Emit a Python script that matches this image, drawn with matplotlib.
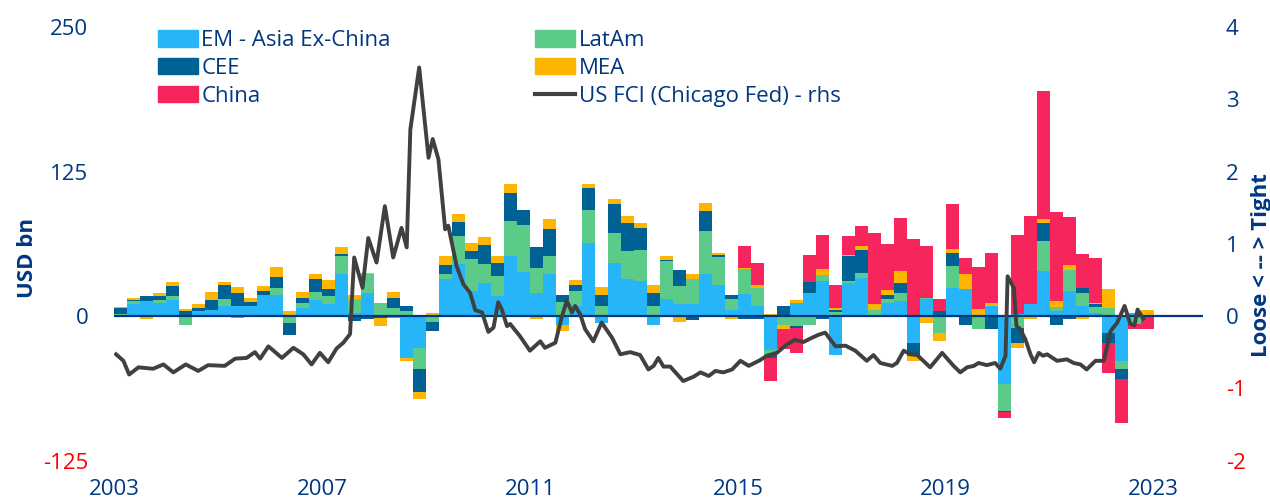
import numpy as np
import pandas as pd
import matplotlib
matplotlib.use("Agg")
import matplotlib.pyplot as plt
from matplotlib.patches import Patch
from matplotlib.lines import Line2D


# ==================================
# DATA  (USD bn, quarterly 2003Q1 - 2022Q4)
# ==================================

quarters = pd.period_range("2003Q1", "2022Q4", freq="Q")

asia = [1, 10, 13, 11.5, 14, 0, 4, 5, 8.5, 8.5,
        8.5, 18.6, 18.6, 0, 7, 14, 10, 36, 3, 20,
        0, -2, -36, -27.5, 0, 32, 45, 21.5, 28.7, 17,
        51.7, 38, 20, 36, -7.4, 8.5, 63.3, -6, 46, 31.6,
        30, -7.4, 14.3, 10, 10, 36, 27.2, 5.6, 18.7, 8.6,
        -29, 0, 11.4, 20, 30, -34, 28.7, 33, 0, 11.4,
        12.8, -23, 14.4, 0, 24.5, 23.1, 0, 8.6, -59, 2,
        10.1, 38.9, 4.3, 21.6, 8.6, 3, -14.4, -38.9, 2.9, 0]

latam = [1, 3, 0, 2, 3, -8, -1, 0.5, 6, -2,
         0, 0, 6, -6, 4, 7, 7, 16, 11.5, 16,
         11, 7, 4, -18.5, -5, 4, 24, 27.5, 16, 17.4,
         30.3, 41, 21.7, 16, 12, 13, 28.8, 8.5, 26, 24.4,
         27.4, 8.5, 33, 15.8, 22.2, 37.5, 24, 8.7, 21.6, 16,
         -4.3, -8, -8.6, -8, 5.8, 3.5, 1.4, 4.4, 5.6, 2.9,
         7.2, 0, 1.5, -14.4, 18.7, 0, -11.5, 0, -23, -10,
         0, 26.1, 3.8, 18.2, 11.6, 5, 7.2, -7.2, -7, 0]

cee = [5, 0.5, 4, 4, 9, 4, 3, 8, 12, 11.5,
       3.5, 3, 9.5, -10, 5, 11, 6.5, 2, -4.5, -3,
       -2, 8.5, 4.5, -20, -8, 8.5, 12, 7, 17, 11.6,
       24.6, 12.5, 18, 23, 6.6, 5.7, 18.8, 10, 24.5, 24.6,
       18.8, 11.5, 1.5, 14.4, -3.5, 17.3, 1.5, 4.3, -3, -3,
       -2.9, 8.6, -2, 9, -3, 2, 21.6, 20, 0, 4.3,
       8.7, -11.6, 0, 4.3, 11.6, -8.1, 0, -11.5, -1.4, -13,
       0, 15.8, -8.1, -2.9, 4.3, 2, -8.6, -8.7, 0, 0]

mea = [0.5, 2.5, -3, 2.5, 3, 2, 3, 7, 3, 5,
       4, 4, 8, 4, 5, 4.5, 7.5, 6, 4, 1.5,
       -7, 5, -3, -6, 3, 7, 7, 7, 6.5, 6.3,
       7.2, -1, -3, 8.7, -5.6, 3.8, 3.7, 6.7, 5, 5.7,
       4.3, 6.4, 3.5, -5.4, 4.3, 7.2, 2.2, -3, 1.5, 2.5,
       2, -3.5, 2.3, 0, 5, 1.5, 1.5, 2.9, 4.4, 4.3,
       10, -4.3, -5.8, -7.2, 3.4, 12.9, 5.8, 2.4, 0, -4.4,
       -2.9, 3.5, 4.9, 4.1, -2.9, 1.5, 15.9, 0, 0, 4.9]

china = [0] * 48 + [
         19, 19, -20, -17, -21, 24, 29.7, 20, 16.4, 17.3,
         62, 39, 46.3, 66.3, 44.7, 10.1, 38.4, 14.4, 36.9, 43.2,
         -4.4, 68, 76.4, 110.3, 77, 41.8, 29.4, 38.9, -26, -37.5,
         -4, -11]

# US FCI (Chicago Fed), rhs
fci_dates = [2003.04, 2003.18, 2003.29, 2003.47, 2003.75, 2003.95, 2004.14, 2004.38, 2004.62, 2004.81,
             2005.13, 2005.33, 2005.55, 2005.71, 2005.81, 2005.97, 2006.23, 2006.45, 2006.64, 2006.80,
             2006.96, 2007.12, 2007.28, 2007.41, 2007.54, 2007.62, 2007.78, 2007.89, 2008.05, 2008.21,
             2008.37, 2008.53, 2008.63, 2008.70, 2008.87, 2009.05, 2009.13, 2009.24, 2009.37, 2009.43,
             2009.59, 2009.72, 2009.85, 2009.95, 2010.08, 2010.20, 2010.30, 2010.39, 2010.46, 2010.56,
             2010.62, 2010.81, 2011.00, 2011.20, 2011.29, 2011.49, 2011.61, 2011.71, 2011.81, 2011.87,
             2011.97, 2012.06, 2012.22, 2012.38, 2012.58, 2012.74, 2012.93, 2013.12, 2013.28, 2013.38,
             2013.47, 2013.57, 2013.70, 2013.95, 2014.15, 2014.28, 2014.44, 2014.57, 2014.72, 2014.89,
             2015.05, 2015.21, 2015.43, 2015.56, 2015.75, 2015.95, 2016.10, 2016.26, 2016.43, 2016.55,
             2016.68, 2016.88, 2017.07, 2017.26, 2017.48, 2017.61, 2017.74, 2017.97, 2018.06, 2018.19,
             2018.32, 2018.45, 2018.70, 2018.93, 2019.15, 2019.28, 2019.41, 2019.54, 2019.63, 2019.79,
             2019.95, 2020.05, 2020.15, 2020.19, 2020.31, 2020.36, 2020.43, 2020.53, 2020.63, 2020.70,
             2020.79, 2020.87, 2020.95, 2021.14, 2021.33, 2021.46, 2021.59, 2021.71, 2021.88, 2022.04,
             2022.17, 2022.30, 2022.44, 2022.55, 2022.63, 2022.69, 2022.80]

fci_values = [-0.53, -0.62, -0.81, -0.71, -0.73, -0.67, -0.78, -0.67, -0.76, -0.68,
              -0.69, -0.59, -0.58, -0.50, -0.59, -0.42, -0.58, -0.44, -0.53, -0.67,
              -0.51, -0.64, -0.45, -0.37, -0.25, 0.81, 0.39, 1.08, 0.74, 1.52,
              0.81, 1.22, 0.95, 2.58, 3.44, 2.19, 2.45, 2.17, 1.20, 1.25,
              0.69, 0.44, 0.32, 0.08, 0.05, -0.22, -0.16, 0.19, 0.09, -0.14,
              -0.11, -0.28, -0.48, -0.35, -0.44, -0.37, -0.02, 0.21, 0.05, 0.14,
              0.02, -0.18, -0.35, -0.09, -0.30, -0.53, -0.50, -0.54, -0.74, -0.69,
              -0.58, -0.70, -0.70, -0.90, -0.84, -0.78, -0.83, -0.76, -0.78, -0.74,
              -0.62, -0.69, -0.61, -0.55, -0.51, -0.39, -0.33, -0.36, -0.30, -0.26,
              -0.23, -0.42, -0.41, -0.48, -0.62, -0.54, -0.65, -0.69, -0.65, -0.48,
              -0.53, -0.54, -0.71, -0.51, -0.69, -0.78, -0.71, -0.69, -0.65, -0.68,
              -0.65, -0.73, -0.55, 0.55, 0.39, -0.14, -0.18, -0.32, -0.53, -0.64,
              -0.51, -0.55, -0.53, -0.62, -0.60, -0.65, -0.67, -0.74, -0.62, -0.62,
              -0.21, -0.09, 0.14, -0.11, -0.13, 0.09, -0.04]

series_names = ["EM - Asia Ex-China", "LatAm", "CEE", "MEA", "China"]
series_colors = ["#27B5FA", "#5CCB89", "#006194", "#FDB500", "#F6255C"]

year_ticks = [2003, 2007, 2011, 2015, 2019, 2023]

NAVY = "#003781"
RED = "#FF0000"
FS = 16


# ==================================
# PLOT
# ==================================

plt.rcParams["font.family"] = ["Open Sans", "DejaVu Sans"]
plt.rcParams["axes.unicode_minus"] = False

fig = plt.figure(figsize=(12.7, 5.01), dpi=100)
ax = fig.add_axes([0.0898, 0.0808, 0.8575, 0.8653])

x = quarters.year + (quarters.quarter - 1) / 4 + 0.125

pos_base = np.zeros(len(quarters))
neg_base = np.zeros(len(quarters))

for vals, name, col in zip([asia, latam, cee, mea, china], series_names, series_colors):
    v = np.array(vals, dtype=float)
    base = np.where(v >= 0, pos_base, neg_base)
    ax.bar(x, v, bottom=base, width=0.245, color=col, linewidth=0)
    pos_base += np.where(v > 0, v, 0)
    neg_base += np.where(v < 0, v, 0)

ax.axhline(0, color=NAVY, linewidth=1.6, zorder=3)

ax.set_xlim(2003.0, 2023.95)
ax.set_ylim(-125, 250)
ax.set_yticks([-125, 0, 125, 250])
ax.set_xticks(year_ticks)
ax.set_xticklabels([str(y) for y in year_ticks])

for s in ax.spines.values():
    s.set_visible(False)
ax.tick_params(axis="both", length=0, labelsize=FS, colors=NAVY)
ax.tick_params(axis="y", pad=18.5)
ax.tick_params(axis="x", pad=13)
for lab, val in zip(ax.get_yticklabels(), ax.get_yticks()):
    lab.set_color(RED if val < 0 else NAVY)

# right axis: FCI line
ax2 = ax.twinx()
ax2.plot(fci_dates, fci_values, color="#404040", linewidth=2.8, solid_joinstyle="round")
ax2.set_ylim(-2, 4)
ax2.set_yticks(range(-2, 5))
for s in ax2.spines.values():
    s.set_visible(False)
ax2.tick_params(axis="y", length=0, labelsize=FS, colors=NAVY, pad=16.5)
for lab, val in zip(ax2.get_yticklabels(), ax2.get_yticks()):
    lab.set_color(RED if val < 0 else NAVY)

fig.text(0.022, 0.485, "USD bn", rotation=90, ha="center", va="center",
         fontsize=FS, fontweight="bold", color=NAVY)
fig.text(0.9937, 0.471, "Loose < -- > Tight", rotation=90, ha="center", va="center",
         fontsize=FS, fontweight="bold", color=NAVY)

# legend: column-wise order
handles = [Patch(color=series_colors[0]), Patch(color=series_colors[2]), Patch(color=series_colors[4]),
           Patch(color=series_colors[1]), Patch(color=series_colors[3]),
           Line2D([], [], color="#404040", linewidth=3)]
labels = [series_names[0], series_names[2], series_names[4],
          series_names[1], series_names[3], "US FCI (Chicago Fed) - rhs"]
fig.legend(handles, labels, ncol=2, frameon=False, fontsize=FS,
           loc="upper left", bbox_to_anchor=(158 / 1270, 1 - 30 / 501),
           borderpad=0, borderaxespad=0, handlelength=1.8, handleheight=0.77,
           handletextpad=0.15, labelspacing=0.31, columnspacing=6.5,
           labelcolor=NAVY)

fig.savefig("out.png", dpi=100)
